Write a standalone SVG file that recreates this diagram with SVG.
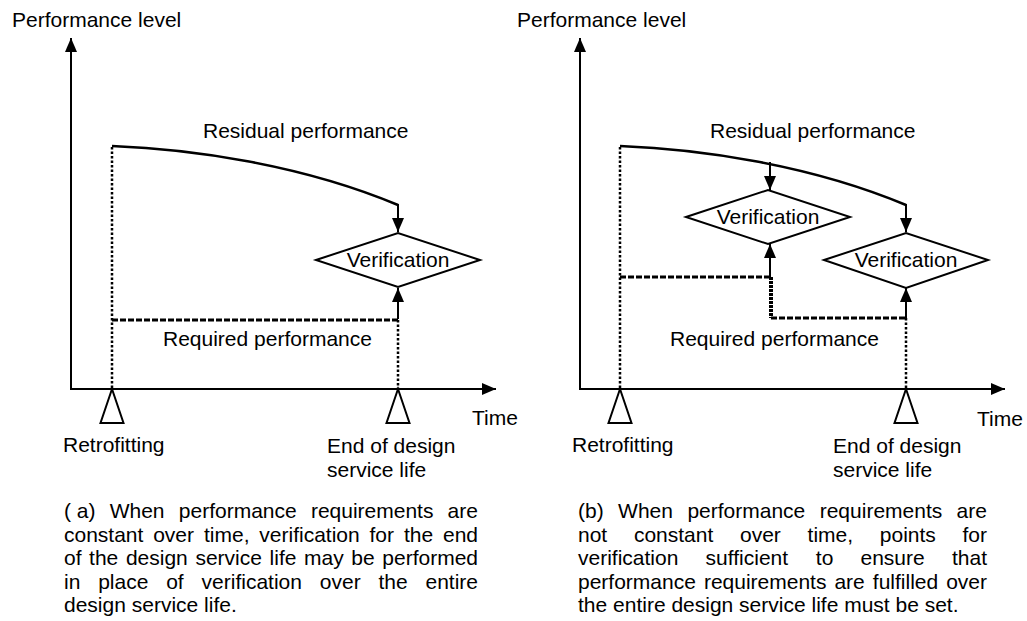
<svg xmlns="http://www.w3.org/2000/svg" width="1027" height="621" viewBox="0 0 1027 621">
<style>
text{font-family:"Liberation Sans",Arial,sans-serif;font-size:21px;fill:#000}
.ax{stroke:#000;stroke-width:2;fill:none}
.curve{stroke:#000;stroke-width:2.5;fill:none}
.arr{stroke:#000;stroke-width:2;fill:none}
.dia{stroke:#000;stroke-width:2;fill:#fff}
.tri{stroke:#000;stroke-width:2;fill:#fff}
.dv{stroke:#000;stroke-width:2.5;stroke-dasharray:2.5 2;fill:none}
.dh{stroke:#000;stroke-width:3;stroke-dasharray:6 2;fill:none}
.dt{stroke:#000;stroke-width:4;stroke-dasharray:3 1;fill:none}
</style>
<defs>
<marker id="ah" viewBox="0 0 14 12" refX="14" refY="6" markerWidth="14" markerHeight="12" markerUnits="userSpaceOnUse" orient="auto">
<path d="M0,0 L14,6 L0,12 z" fill="#000"/>
</marker>
</defs>

<g id="connectors">
<!-- left panel -->
<path class="ax" d="M71,389 V38" marker-end="url(#ah)"/>
<path class="ax" d="M70,389 H496" marker-end="url(#ah)"/>
<path class="dv" d="M112,147 V389"/>
<path class="dh" d="M112,320 H398"/>
<path class="dv" d="M398,320 V389"/>
<path class="curve" d="M112,146 C190,149 300,164 398,205"/>
<path class="arr" d="M398,204 V232" marker-end="url(#ah)"/>
<path class="arr" d="M398,319 V288" marker-end="url(#ah)"/>
<!-- right panel -->
<path class="ax" d="M580,389 V38" marker-end="url(#ah)"/>
<path class="ax" d="M579,389 H1005" marker-end="url(#ah)"/>
<path class="dv" d="M620,147 V389"/>
<path class="dh" d="M620,277 H770"/>
<path class="dt" d="M771,277 V318"/>
<path class="dh" d="M771,318 H906"/>
<path class="dv" d="M906,318 V389"/>
<path class="curve" d="M620,146 C698,149 808,164 906,205"/>
<path class="arr" d="M770,162 V190" marker-end="url(#ah)"/>
<path class="arr" d="M770,277 V244" marker-end="url(#ah)"/>
<path class="arr" d="M906,204 V232" marker-end="url(#ah)"/>
<path class="arr" d="M906,319 V288" marker-end="url(#ah)"/>
</g>

<g id="left-axis-labels">
<text x="12" y="27">Performance level</text>
<text x="472" y="425">Time</text>
<text x="203" y="138">Residual performance</text>
<text x="163" y="346">Required performance</text>
</g>
<g id="left-verification">
<polygon class="dia" points="316,260 398,233 480,260 398,287"/>
<text x="398" y="267" text-anchor="middle">Verification</text>
</g>
<g id="left-retrofitting">
<polygon class="tri" points="112,389 123.5,423 100.5,423"/>
<text x="63" y="452">Retrofitting</text>
</g>
<g id="left-end">
<polygon class="tri" points="398,389 409.5,423 386.5,423"/>
<text x="327" y="453">End of design</text>
<text x="327" y="477">service life</text>
</g>

<g id="right-axis-labels">
<text x="517" y="27">Performance level</text>
<text x="977" y="426">Time</text>
<text x="710" y="138">Residual performance</text>
<text x="670" y="346">Required performance</text>
</g>
<g id="right-verification-1">
<polygon class="dia" points="686,217 768,190 850,217 768,244"/>
<text x="768" y="224" text-anchor="middle">Verification</text>
</g>
<g id="right-verification-2">
<polygon class="dia" points="824,260 906,233 988,260 906,288"/>
<text x="906" y="267" text-anchor="middle">Verification</text>
</g>
<g id="right-retrofitting">
<polygon class="tri" points="620,389 631.5,423 608.5,423"/>
<text x="572" y="452">Retrofitting</text>
</g>
<g id="right-end">
<polygon class="tri" points="906,389 917.5,423 894.5,423"/>
<text x="833" y="453">End of design</text>
<text x="833" y="477">service life</text>
</g>

<g id="caption-a">
<text y="518"><tspan x="64">( a)</tspan><tspan x="109.7">When</tspan><tspan x="178.8">performance</tspan><tspan x="310.9">requirements</tspan><tspan x="447.6">are</tspan></text>
<text y="542"><tspan x="64">constant</tspan><tspan x="153.2">over</tspan><tspan x="204">time,</tspan><tspan x="259.3">verification</tspan><tspan x="369.5">for</tspan><tspan x="403.9">the</tspan><tspan x="443">end</tspan></text>
<text y="565"><tspan x="64">of</tspan><tspan x="89.1">the</tspan><tspan x="125.9">design</tspan><tspan x="195.4">service</tspan><tspan x="269.6">life</tspan><tspan x="304">may</tspan><tspan x="351.3">be</tspan><tspan x="382.3">performed</tspan></text>
<text y="589"><tspan x="64">in</tspan><tspan x="98.2">place</tspan><tspan x="166.2">of</tspan><tspan x="201.6">verification</tspan><tspan x="319.8">over</tspan><tspan x="378.5">the</tspan><tspan x="425.5">entire</tspan></text>
<text x="64" y="612">design service life.</text>
</g>

<g id="caption-b">
<text y="518"><tspan x="578">(b)</tspan><tspan x="618.1">When</tspan><tspan x="687.4">performance</tspan><tspan x="819.7">requirements</tspan><tspan x="956.6">are</tspan></text>
<text y="542"><tspan x="578">not</tspan><tspan x="633.9">constant</tspan><tspan x="740">over</tspan><tspan x="807.6">time,</tspan><tspan x="879.8">points</tspan><tspan x="962.5">for</tspan></text>
<text y="565"><tspan x="578">verification</tspan><tspan x="705.6">sufficient</tspan><tspan x="815.8">to</tspan><tspan x="860.5">ensure</tspan><tspan x="952">that</tspan></text>
<text y="589"><tspan x="578">performance</tspan><tspan x="703.9">requirements</tspan><tspan x="834.4">are</tspan><tspan x="872.8">fulfilled</tspan><tspan x="946.2">over</tspan></text>
<text x="578" y="612">the entire design service life must be set.</text>
</g>
</svg>
